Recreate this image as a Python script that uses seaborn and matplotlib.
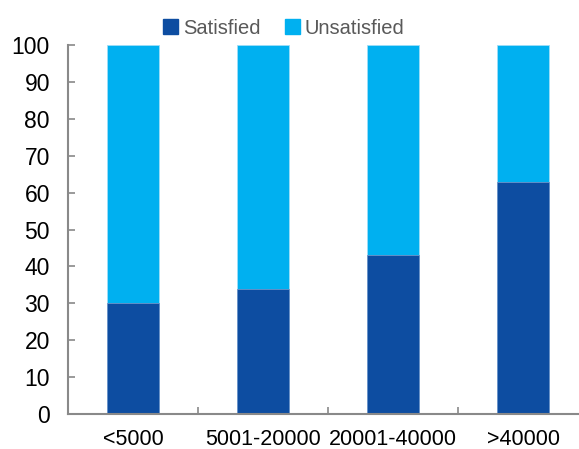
import pandas as pd
import numpy as np
import matplotlib.pyplot as plt
import seaborn as sns

# data
categories = ["<5000", "5001-20000", "20001-40000", ">40000"]
satisfied = [30, 34, 43, 63]
unsatisfied = [70, 66, 57, 37]

dark_blue = "#0D4DA1"
light_blue = "#00B0F0"

sns.set_style("white")
plt.rcParams["font.family"] = ["Liberation Sans", "DejaVu Sans"]

df = pd.DataFrame({"Income": categories,
                   "Satisfied": satisfied,
                   "Unsatisfied": unsatisfied})
df["Total"] = df["Satisfied"] + df["Unsatisfied"]

fig = plt.figure(figsize=(5.79, 4.49), dpi=100)
ax = fig.add_axes([68 / 579, 1 - 414 / 449, (588 - 68) / 579, (414 - 45) / 449])

sns.barplot(data=df, x="Income", y="Total", color=light_blue, width=0.4,
            edgecolor="#9FDDF7", linewidth=0.6, saturation=1, ax=ax)
sns.barplot(data=df, x="Income", y="Satisfied", color=dark_blue, width=0.4,
            edgecolor="#6F93C8", linewidth=0.6, saturation=1, ax=ax)

ax.set_xlim(-0.5, len(categories) - 0.5)
ax.set_ylim(0, 100)
ax.set_yticks(np.arange(0, 101, 10))
ax.set_xlabel("")
ax.set_ylabel("")

# tick marks between categories, labels under bars
ax.set_xticks(np.arange(len(categories)))
ax.set_xticklabels(categories)
ax.set_xticks(np.arange(0.5, len(categories) - 0.5, 1), minor=True)
ax.tick_params(axis="x", which="major", length=0, pad=11, labelsize=15.5, labelcolor="black")
ax.tick_params(axis="x", which="minor", direction="in", length=5, width=1.2, color="#898989", bottom=True)
ax.tick_params(axis="y", direction="in", length=5, width=1.2, color="#898989", pad=13,
               labelsize=16.5, labelcolor="black", left=True)

for side in ["top", "right"]:
    ax.spines[side].set_visible(False)
for side in ["left", "bottom"]:
    ax.spines[side].set_color("#898989")
    ax.spines[side].set_linewidth(1.5)

handles = [plt.Rectangle((0, 0), 1, 1, color=dark_blue),
           plt.Rectangle((0, 0), 1, 1, color=light_blue)]
leg = fig.legend(handles, ["Satisfied", "Unsatisfied"], loc="center",
                 bbox_to_anchor=(0.49, 1 - 28 / 449), ncol=2, frameon=False,
                 fontsize=14.5, handlelength=0.75, handleheight=0.75,
                 handletextpad=0.25, columnspacing=1.2)
for t in leg.get_texts():
    t.set_color("#595959")

fig.savefig("out.png", dpi=100)
